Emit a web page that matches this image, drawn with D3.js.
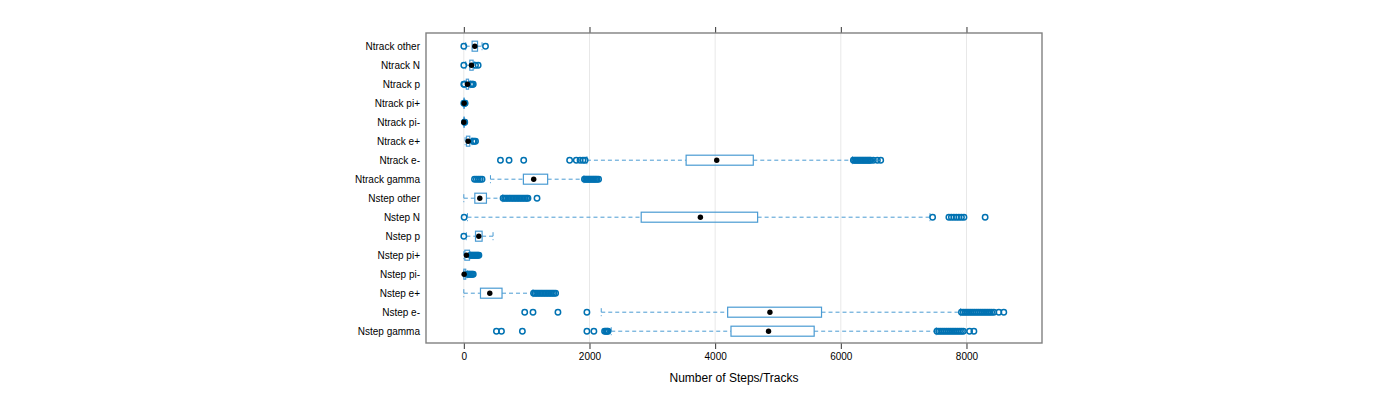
<!DOCTYPE html>
<html>
<head>
<meta charset="utf-8">
<script src="https://cdn.jsdelivr.net/npm/d3@7"></script>
<style>
  html, body { margin: 0; padding: 0; background: #fff; }
  svg { display: block; }
  text { font-family: "Liberation Sans", Arial, Helvetica, sans-serif; }
</style>
</head>
<body>
<svg id="chart" width="1400" height="400"></svg>
<script>
// Categories, bottom to top (factor level order)
const categories = ["Nstep gamma","Nstep e-","Nstep e+","Nstep pi-","Nstep pi+","Nstep p","Nstep N","Nstep other",
                    "Ntrack gamma","Ntrack e-","Ntrack e+","Ntrack pi-","Ntrack pi+","Ntrack p","Ntrack N","Ntrack other"];
const whiskerLow  = [2346, 2187,    0,   0,   0,   40,   58,   0,  424, 1959,  20,  0,  0,  20,  30,  30];
const q1          = [4252, 4199,  265,   0,  16,  186, 2823, 175,  948, 3538,  42,  0,  0,  40,  95, 132];
const medians     = [4850, 4872,  413,   5,  42,  238, 3765, 254, 1112, 4025,  68,  0,  5,  58, 122, 175];
const q3          = [5576, 5693,  608,  30,  90,  291, 4676, 360, 1334, 4607,  95,  3,  8,  75, 148, 218];
const whiskerHigh = [7519, 7906, 1100,  55, 100,  465, 7419, 620, 1911, 6185, 130,  6, 10, 100, 165, 290];
const outliers = [
  [519, 599, 932, 1959, 2070, 2240, 2260, 2280, 2295,
   7530, 7560, 7590, 7620, 7650, 7680, 7710, 7740, 7770, 7800, 7830, 7860, 7890, 7920, 7950, 8049, 8118],
  [969, 1101, 1498, 1959,
   7920, 7950, 7980, 8010, 8040, 8070, 8100, 8130, 8160, 8190, 8220, 8250, 8280, 8310, 8340, 8370, 8400, 8435, 8515, 8594],
  [1110, 1135, 1160, 1185, 1210, 1235, 1260, 1285, 1310, 1335, 1360, 1385, 1410, 1435, 1461],
  [60, 75, 90, 105, 120, 135, 150],
  [105, 120, 135, 150, 165, 180, 195, 210, 225, 240],
  [0],
  [5, 7461, 7720, 7760, 7800, 7840, 7880, 7920, 7960, 8297],
  [625, 650, 675, 700, 725, 750, 775, 800, 825, 850, 875, 900, 925, 950, 975, 1000, 1021, 1165],
  [170, 200, 230, 260, 290,
   1920, 1940, 1960, 1980, 2000, 2020, 2040, 2060, 2080, 2100, 2120, 2145],
  [583, 720, 953, 1684, 1790, 1850, 1896, 1930,
   6200, 6220, 6240, 6260, 6280, 6300, 6320, 6340, 6360, 6380, 6400, 6420, 6440, 6460, 6477, 6518, 6582, 6635],
  [148, 165, 186],
  [10, 15],
  [0, 15, 20],
  [0, 8, 110, 125, 140, 150],
  [0, 186, 228],
  [0, 345]
];
const xTicks = [0, 2000, 4000, 6000, 8000];
const xTitle = "Number of Steps/Tracks";

const svg = d3.select("#chart");
const panel = {left: 426, right: 1042, top: 33, bottom: 343};

const x = d3.scaleLinear().domain([-602, 9202]).range([panel.left, panel.right]);
const y = d3.scaleLinear().domain([0.4, categories.length + 0.6]).range([342.6, 34.8]);

const boxColor = "#4a9bd3";
const ptColor = "#0072b2";
const boxH = 10;
const capH = 8;

// grid lines
svg.append("g").selectAll("line").data(xTicks).join("line")
  .attr("x1", d => x(d)).attr("x2", d => x(d))
  .attr("y1", panel.top).attr("y2", panel.bottom)
  .attr("stroke", "#e8e8e8").attr("stroke-width", 1);

// bottom axis
const xAxisB = d3.axisBottom(x).tickValues(xTicks).tickSize(6).tickPadding(4).tickFormat(d3.format("d"));
const gB = svg.append("g").attr("transform", `translate(0,${panel.bottom})`).call(xAxisB);
gB.select(".domain").remove();
gB.selectAll("line").attr("stroke", "#333");
gB.selectAll("text").attr("font-size", "10px").attr("fill", "#000")
  .attr("font-family", "'Liberation Sans', Arial, sans-serif");

// top axis ticks only
const xAxisT = d3.axisTop(x).tickValues(xTicks).tickSize(6).tickFormat("");
const gT = svg.append("g").attr("transform", `translate(0,${panel.top})`).call(xAxisT);
gT.select(".domain").remove();
gT.selectAll("line").attr("stroke", "#333");

// y labels
const yAxis = d3.axisLeft(y).tickValues(d3.range(1, categories.length + 1))
  .tickSize(0).tickPadding(6).tickFormat(d => categories[d - 1]);
const gL = svg.append("g").attr("transform", `translate(${panel.left},0)`).call(yAxis);
gL.select(".domain").remove();
gL.selectAll("text").attr("font-size", "10px").attr("fill", "#000")
  .attr("font-family", "'Liberation Sans', Arial, sans-serif");

const idx = d3.range(categories.length);
const g = svg.append("g");

// whiskers (dashed)
idx.forEach(i => {
  const cy = y(i + 1);
  const seg = [[whiskerLow[i], q1[i]], [q3[i], whiskerHigh[i]]];
  seg.forEach(([a, b]) => {
    if (b - a <= 0) return;
    g.append("line").attr("x1", x(a)).attr("x2", x(b)).attr("y1", cy).attr("y2", cy)
      .attr("stroke", boxColor).attr("stroke-width", 1).attr("stroke-dasharray", "4,3");
  });
  [whiskerLow[i], whiskerHigh[i]].forEach(v => {
    g.append("line").attr("x1", x(v)).attr("x2", x(v)).attr("y1", cy - capH / 2).attr("y2", cy + capH / 2)
      .attr("stroke", boxColor).attr("stroke-width", 1).attr("stroke-dasharray", "4,3");
  });
});

// boxes
g.selectAll("rect.box").data(idx).join("rect").attr("class", "box")
  .attr("x", i => x(q1[i])).attr("width", i => Math.max(0.5, x(q3[i]) - x(q1[i])))
  .attr("y", i => y(i + 1) - boxH / 2).attr("height", boxH)
  .attr("fill", "none").attr("stroke", boxColor).attr("stroke-width", 1.2);

// outliers
idx.forEach(i => {
  g.append("g").selectAll("circle").data(outliers[i]).join("circle")
    .attr("cx", d => x(d)).attr("cy", y(i + 1)).attr("r", 2.7)
    .attr("fill", "none").attr("stroke", ptColor).attr("stroke-width", 1.5);
});

// medians
g.selectAll("circle.med").data(idx).join("circle").attr("class", "med")
  .attr("cx", i => x(medians[i])).attr("cy", i => y(i + 1)).attr("r", 2.7)
  .attr("fill", "#000");

// panel border
svg.append("rect").attr("x", panel.left).attr("y", panel.top)
  .attr("width", panel.right - panel.left).attr("height", panel.bottom - panel.top)
  .attr("fill", "none").attr("stroke", "#808080").attr("stroke-width", 1.4);

// x title
svg.append("text").attr("x", (panel.left + panel.right) / 2).attr("y", 382)
  .attr("text-anchor", "middle").attr("font-size", "12px").attr("fill", "#000")
  .text(xTitle);
</script>
</body>
</html>
